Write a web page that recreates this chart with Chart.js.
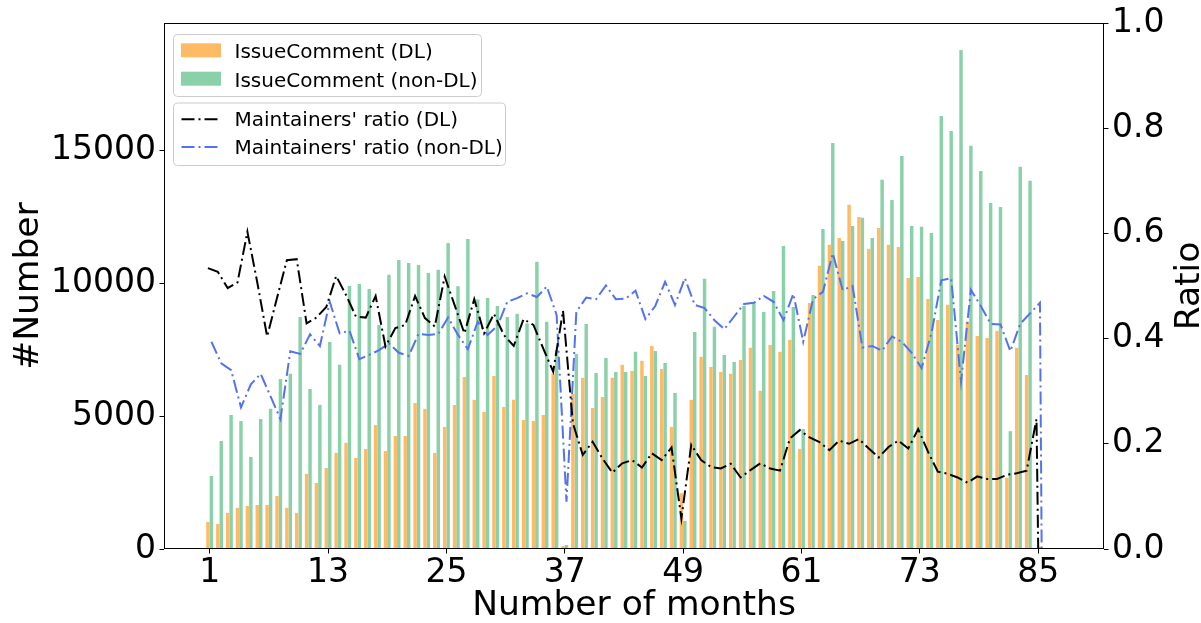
<!DOCTYPE html>
<html>
<head>
<meta charset="utf-8">
<script src="https://cdn.jsdelivr.net/npm/chart.js@4.4.1/dist/chart.umd.min.js"></script>
<style>
  html, body { margin: 0; padding: 0; background: #ffffff; }
  canvas { display: block; }
</style>
</head>
<body>
<canvas id="chart" width="1201" height="623"></canvas>
<script>
// Months covered by the study
const months = [
  1, 2, 3, 4, 5, 6, 7, 8, 9, 10, 11, 12, 13, 14, 15, 16, 17, 18, 19, 20,
  21, 22, 23, 24, 25, 26, 27, 28, 29, 30, 31, 32, 33, 34, 35, 36, 37, 38, 39, 40,
  41, 42, 43, 44, 45, 46, 47, 48, 49, 50, 51, 52, 53, 54, 55, 56, 57, 58, 59, 60,
  61, 62, 63, 64, 65, 66, 67, 68, 69, 70, 71, 72, 73, 74, 75, 76, 77, 78, 79, 80,
  81, 82, 83, 84, 85
];

// Issue comments per month, DL projects
const issueCommentDL = [
  1020, 940, 1360, 1550, 1620, 1660, 1660, 2000, 1550, 1360,
  2830, 2490, 3050, 3620, 4000, 3430, 3770, 4670, 3690, 4260,
  4260, 5500, 5280, 3620, 4600, 5430, 6480, 5620, 5160, 6520,
  5350, 5620, 4860, 4820, 5050, 6600, 110, 5840, 6450, 5310,
  5730, 6450, 6940, 6710, 7090, 7650, 6780, 4600, 2100, 5620,
  7240, 6860, 6670, 6600, 7120, 7580, 5960, 7690, 7430, 7880,
  3770, 9270, 10670, 11460, 11720, 12970, 12510, 11310, 12100, 11460,
  11380, 10210, 10250, 9420, 8630, 9200, 7700, 8560, 8030, 7950,
  8220, 2680, 7580, 6560, 40
];

// Issue comments per month, non-DL projects
const issueCommentNonDL = [
  2750, 4070, 5050, 4820, 3470, 4900, 5280, 6410, 6600, 8740,
  6030, 5430, 7800, 6940, 9910, 9990, 9800, 8440, 10330, 10890,
  10780, 10700, 10400, 10520, 11530, 9900, 11680, 9400, 9460, 9160,
  8740, 8860, 8500, 10820, 8560, 7500, 150, 7350, 8480, 6630,
  7200, 6670, 6670, 7430, 6520, 7460, 7010, 5880, 1060, 8180,
  10180, 8370, 7310, 7050, 9160, 9310, 8930, 9720, 11420, 9120,
  4520, 9570, 12060, 15300, 11610, 12170, 12480, 11720, 13910, 13150,
  14810, 12170, 12140, 11910, 16320, 15750, 18800, 15190, 14240, 13040,
  12890, 4440, 14400, 13880, 80
];

// Share of comments written by maintainers, DL projects
const maintainerRatioDL = [
  0.534, 0.527, 0.496, 0.507, 0.603, 0.507, 0.404, 0.477, 0.549, 0.551,
  0.429, 0.440, 0.460, 0.519, 0.483, 0.442, 0.440, 0.481, 0.385, 0.420,
  0.426, 0.481, 0.439, 0.423, 0.518, 0.464, 0.410, 0.475, 0.410, 0.447,
  0.407, 0.386, 0.437, 0.426, 0.381, 0.337, 0.453, 0.239, 0.179, 0.204,
  0.172, 0.145, 0.163, 0.169, 0.155, 0.182, 0.169, 0.193, 0.058, 0.198,
  0.169, 0.156, 0.153, 0.162, 0.136, 0.150, 0.163, 0.153, 0.149, 0.210,
  0.226, 0.212, 0.203, 0.188, 0.206, 0.200, 0.209, 0.191, 0.174, 0.194,
  0.206, 0.191, 0.228, 0.185, 0.147, 0.143, 0.136, 0.126, 0.138, 0.133,
  0.133, 0.141, 0.144, 0.149, 0.247
];

// Share of comments written by maintainers, non-DL projects
const maintainerRatioNonDL = [
  0.394, 0.353, 0.340, 0.269, 0.313, 0.333, 0.290, 0.247, 0.376, 0.371,
  0.408, 0.386, 0.470, 0.410, 0.415, 0.361, 0.369, 0.378, 0.391, 0.373,
  0.367, 0.409, 0.407, 0.409, 0.440, 0.407, 0.380, 0.432, 0.407, 0.424,
  0.470, 0.477, 0.486, 0.479, 0.499, 0.445, 0.090, 0.451, 0.478, 0.475,
  0.501, 0.475, 0.476, 0.491, 0.437, 0.462, 0.508, 0.464, 0.515, 0.464,
  0.458, 0.435, 0.418, 0.442, 0.466, 0.468, 0.481, 0.470, 0.435, 0.485,
  0.394, 0.475, 0.489, 0.562, 0.492, 0.500, 0.383, 0.386, 0.377, 0.404,
  0.394, 0.373, 0.344, 0.410, 0.511, 0.515, 0.318, 0.493, 0.462, 0.428,
  0.427, 0.376, 0.428, 0.448, 0.468
];

// Axis tick values
const monthTicks = [1, 13, 25, 37, 49, 61, 73, 85];
const countTicks = [0, 5000, 10000, 15000];
const ratioTicks = [0, 0.2, 0.4, 0.6, 0.8, 1.0];

// ---- styling ----
const FONT = 'DejaVu Sans';
const ORANGE = '#ffba66';
const GREEN = '#8ad1aa';
const BLUE = '#5472ee';
const DASH_DOT = [13, 4, 2, 4];
const CATEGORY_PCT = 0.7;           // bar pair fills 70% of a month slot
const barOffset = CATEGORY_PCT / 4; // centre of each bar relative to the month
const TITLE_SIZE = 34.5;

Chart.defaults.font.family = FONT;
Chart.defaults.color = '#000';

const barPoints = vals => months.map((m, i) => ({ x: m, y: vals[i] }));
// ratio lines sit on their own bar and fall to zero after the last month
const ratioPoints = (vals, shift) => {
  const pts = months.map((m, i) => ({ x: m + shift, y: vals[i] }));
  pts.push({ x: pts[pts.length - 1].x + barOffset, y: 0 });
  return pts;
};

const setTicks = list => scale => { scale.ticks = list.map(v => ({ value: v })); };

const tickFont = { family: FONT, size: 33, lineHeight: 1 };
const titleFont = { family: FONT, size: TITLE_SIZE, lineHeight: 1 };
const tickGrid = { offset: false, drawOnChartArea: false, drawTicks: true, tickLength: 4.5, tickColor: '#000', tickWidth: 1 };

function roundRect(ctx, x, y, w, h, r) {
  ctx.beginPath();
  ctx.moveTo(x + r, y);
  ctx.arcTo(x + w, y, x + w, y + h, r);
  ctx.arcTo(x + w, y + h, x, y + h, r);
  ctx.arcTo(x, y + h, x, y, r);
  ctx.arcTo(x, y, x + w, y, r);
  ctx.closePath();
}

// axes frame, right-hand axis title and the two legend boxes
const decorations = {
  id: 'decorations',
  afterDatasetsDraw(chart) {
    const { ctx, chartArea: a } = chart;
    ctx.save();
    ctx.strokeStyle = '#000';
    ctx.lineWidth = 1;
    const l = Math.round(a.left) + 0.5, t = Math.round(a.top) + 0.5;
    const r = Math.round(a.right) - 0.5, b = Math.round(a.bottom) - 0.5;
    ctx.strokeRect(l, t, r - l, b - t);
    ctx.restore();
  },
  afterDraw(chart) {
    const { ctx, chartArea: a } = chart;
    ctx.save();

    // "Ratio" reads bottom-to-top beside the right axis
    ctx.font = `${TITLE_SIZE}px "${FONT}"`;
    ctx.fillStyle = '#000';
    ctx.textAlign = 'center';
    ctx.textBaseline = 'alphabetic';
    ctx.translate(1199, (a.top + a.bottom) / 2);
    ctx.rotate(-Math.PI / 2);
    ctx.fillText('Ratio', 0, 0);
    ctx.setTransform(1, 0, 0, 1, 0, 0);

    const drawBox = (x, y, w, h) => {
      roundRect(ctx, x + 0.5, y + 0.5, w, h, 4);
      ctx.fillStyle = 'rgba(255,255,255,0.8)';
      ctx.fill();
      ctx.strokeStyle = '#cccccc';
      ctx.lineWidth = 1;
      ctx.stroke();
    };
    ctx.font = `20px "${FONT}"`;
    ctx.textAlign = 'left';
    ctx.textBaseline = 'alphabetic';

    // bar legend
    drawBox(173, 34, 308, 62);
    const barRows = [
      { color: ORANGE, text: 'IssueComment (DL)', top: 43.3, base: 58.3 },
      { color: GREEN, text: 'IssueComment (non-DL)', top: 71.7, base: 86.7 }
    ];
    barRows.forEach(row => {
      ctx.fillStyle = row.color;
      ctx.fillRect(181, row.top, 40, 14);
      ctx.fillStyle = '#000';
      ctx.fillText(row.text, 234.5, row.base);
    });

    // line legend
    drawBox(173, 102.5, 332, 62.5);
    const lineRows = [
      { color: '#000', text: "Maintainers' ratio (DL)", y: 119.3, base: 126 },
      { color: BLUE, text: "Maintainers' ratio (non-DL)", y: 147, base: 153.7 }
    ];
    lineRows.forEach(row => {
      ctx.strokeStyle = row.color;
      ctx.lineWidth = 2;
      ctx.setLineDash(DASH_DOT);
      ctx.beginPath();
      ctx.moveTo(181.5, row.y);
      ctx.lineTo(220.5, row.y);
      ctx.stroke();
      ctx.setLineDash([]);
      ctx.fillStyle = '#000';
      ctx.fillText(row.text, 234.5, row.base);
    });
    ctx.restore();
  }
};

new Chart(document.getElementById('chart'), {
  type: 'bar',
  data: {
    datasets: [
      {
        type: 'bar', label: 'IssueComment (DL)', data: barPoints(issueCommentDL),
        backgroundColor: ORANGE, borderWidth: 0, categoryPercentage: CATEGORY_PCT, barPercentage: 1,
        yAxisID: 'y', order: 1
      },
      {
        type: 'bar', label: 'IssueComment (non-DL)', data: barPoints(issueCommentNonDL),
        backgroundColor: GREEN, borderWidth: 0, categoryPercentage: CATEGORY_PCT, barPercentage: 1,
        yAxisID: 'y', order: 1
      },
      {
        type: 'line', label: "Maintainers' ratio (DL)", data: ratioPoints(maintainerRatioDL, -barOffset),
        borderColor: '#000', borderWidth: 2, borderDash: DASH_DOT, pointRadius: 0, tension: 0,
        fill: false, yAxisID: 'y1', order: 0
      },
      {
        type: 'line', label: "Maintainers' ratio (non-DL)", data: ratioPoints(maintainerRatioNonDL, barOffset),
        borderColor: BLUE, borderWidth: 2, borderDash: DASH_DOT, pointRadius: 0, tension: 0,
        fill: false, yAxisID: 'y1', order: 0
      }
    ]
  },
  options: {
    responsive: false,
    devicePixelRatio: 1,
    animation: false,
    events: [],
    layout: { padding: { top: 23, left: 0, right: 0, bottom: 0 } },
    plugins: { legend: { display: false }, tooltip: { enabled: false } },
    scales: {
      x: {
        type: 'linear', min: -3.63, max: 91.67, offset: false,
        afterBuildTicks: setTicks(monthTicks),
        afterFit: s => { s.height = 74; },
        ticks: { font: tickFont, color: '#000', padding: 3, maxRotation: 0, autoSkip: false, callback: v => String(v) },
        grid: tickGrid,
        border: { display: false },
        title: { display: true, text: 'Number of months', color: '#000', font: titleFont, padding: { top: 0, bottom: 0 } }
      },
      y: {
        type: 'linear', position: 'left', min: 0, max: 19820,
        afterBuildTicks: setTicks(countTicks),
        afterFit: s => { s.width = 164; },
        ticks: { font: tickFont, color: '#000', padding: 3.5, callback: v => String(v) },
        grid: tickGrid,
        border: { display: false },
        title: { display: true, text: '#Number', color: '#000', font: titleFont, padding: { top: 12, bottom: 0 } }
      },
      y1: {
        type: 'linear', position: 'right', min: 0, max: 1,
        afterBuildTicks: setTicks(ratioTicks),
        afterFit: s => { s.width = 97; },
        ticks: { font: tickFont, color: '#000', padding: 3.5, callback: v => v.toFixed(1) },
        grid: tickGrid,
        border: { display: false }
      }
    }
  },
  plugins: [decorations]
});
</script>
</body>
</html>
